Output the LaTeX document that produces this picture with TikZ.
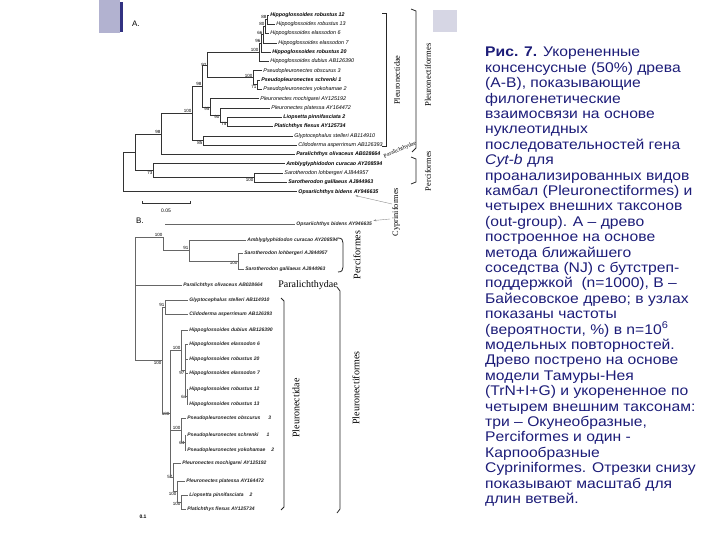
\documentclass[tikz,border=0pt]{standalone}
\usepackage{fontspec}
\setmainfont{Liberation Sans}
\newfontfamily\capfont[FakeStretch=1.12]{Liberation Sans}
\newfontfamily\grpfont{Liberation Serif}
\usetikzlibrary{arrows.meta}

\definecolor{capblue}{RGB}{28,28,120}
\definecolor{slidelav}{RGB}{178,178,208}
\definecolor{slidenavy}{RGB}{50,50,130}
\definecolor{slidepale}{RGB}{214,214,228}

\tikzset{
  branch/.style={draw=black!80, line width=0.6pt},
  branchb/.style={draw=black!60, line width=0.45pt},
  tipa/.style={anchor=west, inner sep=1.2pt, font=\fontsize{5.4}{6}\selectfont\itshape},
  tipab/.style={tipa, font=\fontsize{5.3}{6}\selectfont\bfseries\itshape},
  tipb/.style={anchor=west, inner sep=1.2pt, font=\fontsize{5}{5.5}\selectfont\bfseries\itshape, text=black!85},
  bs/.style={font=\fontsize{4.5}{5}\selectfont, inner sep=0.5pt},
  grptext/.style={font=\grpfont\fontsize{8.3}{8.3}\selectfont, inner sep=0pt},
  grp/.style={grptext, rotate=90},
  bracket/.style={draw=black!85, line width=0.8pt},
  cyparrow/.style={draw=black!45, line width=0.4pt, -{Stealth[length=3pt,width=2pt]}},
  caption/.style={font=\capfont\fontsize{14}{15.4}\selectfont, text=capblue, align=left, inner sep=0pt},
}

\begin{document}
\begin{tikzpicture}[x=1pt, y=-1pt]
    \useasboundingbox (0,0) rectangle (720,540);

    % Slide corners
    \fill[slidelav] (99,0) rectangle (120,33);
    \fill[slidenavy] (120,2) rectangle (123,32);
    \fill[slidepale] (433,10) rectangle (457,32);

    % Panel letters
    \node[font=\fontsize{8}{8}\selectfont] (lblA) at (136,24) {A.};
    \node[font=\fontsize{8}{8}\selectfont] (lblB) at (140,221) {B.};

    % Tree A: tips
    \node[tipab] (aR12) at (269,15) {Hippoglossoides robustus 12};
    \node[tipa] (aR13) at (275,24.3) {Hippoglossoides robustus 13};
    \node[tipa] (aE6) at (269,33.6) {Hippoglossoides elassodon 6};
    \node[tipa] (aE7) at (277,42.9) {Hippoglossoides elassodon 7};
    \node[tipab] (aR20) at (271,52.2) {Hippoglossoides robustus 20};
    \node[tipa] (aDub) at (269,61.5) {Hippoglossoides dubius AB126390};
    \node[tipa] (aObs) at (262,70.8) {Pseudopleuronectes obscurus 3};
    \node[tipab] (aSch) at (260,80.1) {Pseudopleuronectes schrenki 1};
    \node[tipa] (aYok) at (262,89.4) {Pseudopleuronectes yokohamae 2};
    \node[tipa] (aMoc) at (259,98.7) {Pleuronectes mochigarei AY125192};
    \node[tipa] (aPla) at (270,108) {Pleuronectes platessa AY164472};
    \node[tipab] (aLio) at (282,117.3) {Liopsetta pinnifasciata 2};
    \node[tipab] (aFle) at (273,126.6) {Platichthys flesus AY125734};
    \node[tipa] (aGly) at (293,135.9) {Glyptocephalus stelleri AB114910};
    \node[tipa] (aCli) at (297,145.2) {Clidoderma asperrimum AB126393};
    \node[tipab] (aPar) at (295,154.5) {Paralichthys olivaceus AB028664};
    \node[tipab] (aAmb) at (285,163.8) {Amblyglyphidodon curacao AY208594};
    \node[tipa] (aSaL) at (283,173.1) {Sarotherodon lohbergeri AJ844957};
    \node[tipab] (aSaG) at (287,182.4) {Sarotherodon galilaeus AJ844963};
    \node[tipab] (aOps) at (297,191.7) {Opsariichthys bidens AY946635};

    % Tree A: inner nodes with bootstrap
    \coordinate[label={[bs]above left:88}] (aH1) at (267,19.65);
    \coordinate[label={[bs]above left:80}] (aH2) at (265,26.63);
    \coordinate[label={[bs]above left:66}] (aH3) at (263,34.76);
    \coordinate[label={[bs]above left:96}] (aH4) at (261,43.48);
    \coordinate[label={[bs]above left:100}] (aHip) at (259,52.49);
    \coordinate[label={[bs]below left:71}] (aPs1) at (257,84.75);
    \coordinate[label={[bs]above left:100}] (aPse) at (253,77.78);
    \coordinate[label={[bs]left:92}] (aC92) at (207,65.13);
    \coordinate[label={[bs]below left:75}] (aP3) at (227,121.95);
    \coordinate[label={[bs]below left:90}] (aP2) at (220,114.98);
    \coordinate[label={[bs]below left:95}] (aP1) at (210,106.84);
    \coordinate[label={[bs]above left:98}] (aC98b) at (202,85.99);
    \coordinate[label={[bs]below left:85}] (aGC) at (203,140.55);
    \coordinate[label={[bs]above left:100}] (aC100) at (192,113.27);
    \coordinate[label={[bs]above left:98}] (aC98) at (161,133.89);
    \coordinate[label={[bs]below left:100}] (aSar) at (254,177.75);
    \coordinate[label={[bs]below left:73}] (aC73) at (153,170.78);
    \coordinate (aX) at (135,152.33);
    \coordinate (aRoot) at (123,172.0);

    % Tree A: branches
    \draw[branch] (aH1) |- (aR12) (aH1) |- (aR13);
    \draw[branch] (aH2) |- (aH1) (aH2) |- (aE6);
    \draw[branch] (aH3) |- (aH2) (aH3) |- (aE7);
    \draw[branch] (aH4) |- (aH3) (aH4) |- (aR20);
    \draw[branch] (aHip) |- (aH4) (aHip) |- (aDub);
    \draw[branch] (aPs1) |- (aSch) (aPs1) |- (aYok);
    \draw[branch] (aPse) |- (aObs) (aPse) |- (aPs1);
    \draw[branch] (aC92) |- (aHip) (aC92) |- (aPse);
    \draw[branch] (aP3) |- (aLio) (aP3) |- (aFle);
    \draw[branch] (aP2) |- (aPla) (aP2) |- (aP3);
    \draw[branch] (aP1) |- (aMoc) (aP1) |- (aP2);
    \draw[branch] (aC98b) |- (aC92) (aC98b) |- (aP1);
    \draw[branch] (aGC) |- (aGly) (aGC) |- (aCli);
    \draw[branch] (aC100) |- (aC98b) (aC100) |- (aGC);
    \draw[branch] (aC98) |- (aC100) (aC98) |- (aPar);
    \draw[branch] (aSar) |- (aSaL) (aSar) |- (aSaG);
    \draw[branch] (aC73) |- (aAmb) (aC73) |- (aSar);
    \draw[branch] (aX) |- (aC98) (aX) |- (aC73);
    \draw[branch] (aRoot) |- (aX) (aRoot) |- (aOps);

    % Tree A: scale
    \coordinate (sbL) at (142,203);
    \coordinate (sbR) at (190,203);
    \draw[branch] (sbL) ++(0,-2) -- (sbL) -- (sbR) -- ++(0,-2);
    \node[bs, font=\fontsize{5}{5}\selectfont] (sbA) at (166,211) {0.05};

    % Tree A: groups
    \draw[bracket] (382,13) -- (386,13) -- (386,146) -- (382,146);
    \node[grp] (grpPlA) at (397,80) {Pleuronectidae};
    \draw[bracket] (411,9) -- (416,11) -- (416,148) -- (412,152);
    \node[grp, font=\grpfont\fontsize{8.6}{8.6}\selectfont] (grpPfA) at (428,75) {Pleuronectiformes};
    \draw[bracket] (411,157) -- (416,159) -- (416,182) -- (411,184);
    \node[grp] (grpPcA) at (428,171) {Perciformes};
    \node[grptext, font=\grpfont\fontsize{5.8}{6}\selectfont, rotate=23] (grpPaA) at (400,150) {Paralichthydae};

    % Cypriniformes, both trees
    \node[grp] (cyp) at (396,212) {Cypriniformes};
    \coordinate (cypA) at (392,204);
    \coordinate (cypB) at (390,219);

    % Tree B: tips
    \node[tipb] (bOps) at (295,224.3) {Opsariichthys bidens AY946635};
    \node[tipb] (bAmb) at (246,240) {Amblyglyphidodon curacao AY208594};
    \node[tipb] (bSaL) at (243,253) {Sarotherodon lohbergeri AJ844957};
    \node[tipb] (bSaG) at (244,269) {Sarotherodon galilaeus AJ844963};
    \node[tipb] (bPar) at (182,285) {Paralichthys olivaceus AB028664};
    \node[tipb] (bGly) at (188,300) {Glyptocephalus stelleri AB114910};
    \node[tipb] (bCli) at (188,314) {Clidoderma asperrimum AB126393};
    \node[tipb] (bDub) at (188,330) {Hippoglossoides dubius AB126390};
    \node[tipb] (bE6) at (188,344) {Hippoglossoides elassodon 6};
    \node[tipb] (bR20) at (188,359) {Hippoglossoides robustus 20};
    \node[tipb] (bE7) at (188,373) {Hippoglossoides elassodon 7};
    \node[tipb] (bR12) at (188,389) {Hippoglossoides robustus 12};
    \node[tipb] (bR13) at (188,404) {Hippoglossoides robustus 13};
    \node[tipb] (bObs) at (186,418) {Pseudopleuronectes obscurus\hspace{8pt}3};
    \node[tipb] (bSch) at (186,435) {Pseudopleuronectes schrenki\hspace{8pt}1};
    \node[tipb] (bYok) at (186,450) {Pseudopleuronectes yokohamae\hspace{6pt}2};
    \node[tipb] (bMoc) at (181,463) {Pleuronectes mochigarei AY125192};
    \node[tipb] (bPla) at (185,481) {Pleuronectes platessa AY164472};
    \node[tipb] (bLio) at (188,495) {Liopsetta pinnifasciata\hspace{6pt}2};
    \node[tipb] (bFle) at (186,509) {Platichthys flesus AY125734};

    % Tree B: inner nodes with posterior
    \coordinate[label={[bs]below left:100}] (bSar) at (238,261);
    \coordinate[label={[bs]above left:91}] (bC91) at (189,250.5);
    \coordinate[label={[bs]above left:100}] (bPc) at (163,237);
    \coordinate[label={[bs]above left:91}] (bGC) at (165,307);
    \coordinate[label={[bs]left:64}] (bHb1) at (187,396.5);
    \coordinate[label={[bs]below left:97}] (bHb2) at (185,370.25);
    \coordinate[label={[bs]above left:100}] (bHip) at (181,350.13);
    \coordinate[label={[bs]left:64}] (bPs1) at (185,442.5);
    \coordinate[label={[bs]above left:100}] (bPse) at (181,430.25);
    \coordinate[label={[bs]below left:100}] (bP3) at (181,502);
    \coordinate[label={[bs]below left:100}] (bP2) at (177,491.5);
    \coordinate[label={[bs]left:57}] (bP1) at (173,477.25);
    \coordinate[label={[bs]left:100}] (bN) at (170,413.69);
    \coordinate[label={[bs]below left:100}] (bPl) at (162,360.35);
    \coordinate (bRoot) at (135,237);
    \coordinate (bOpsS) at (165,224.3);

    % Tree B: branches
    \draw[branchb] (bSar) |- (bSaL) (bSar) |- (bSaG);
    \draw[branchb] (bC91) |- (bAmb) (bC91) |- (bSar);
    \draw[branchb] (bPc) |- (bC91);
    \draw[branchb] (bGC) |- (bGly) (bGC) |- (bCli);
    \draw[branchb] (bHb1) |- (bR12) (bHb1) |- (bR13);
    \draw[branchb] (bHb2) |- (bE6) (bHb2) |- (bR20) (bHb2) |- (bE7) (bHb2) |- (bHb1);
    \draw[branchb] (bHip) |- (bDub) (bHip) |- (bHb2);
    \draw[branchb] (bPs1) |- (bSch) (bPs1) |- (bYok);
    \draw[branchb] (bPse) |- (bObs) (bPse) |- (bPs1);
    \draw[branchb] (bP3) |- (bLio) (bP3) |- (bFle);
    \draw[branchb] (bP2) |- (bPla) (bP2) |- (bP3);
    \draw[branchb] (bP1) |- (bMoc) (bP1) |- (bP2);
    \draw[branchb] (bN) |- (bHip) (bN) |- (bPse) (bN) |- (bP1);
    \draw[branchb] (bPl) |- (bGC) (bPl) |- (bN);
    \draw[branchb] (bRoot) |- (bPc) (bRoot) |- (bPar) (bRoot) |- (bPl);
    \draw[branchb] (bOpsS) -- (bOps);
    \node[font=\fontsize{5}{5}\selectfont\bfseries] (sbB) at (143,517) {0.1};

    % Tree B: groups
    \draw[bracket] (338,238) .. controls (342,238) and (343,240) .. (343,243) -- (343,267) .. controls (343,270) and (342,272) .. (338,272);
    \node[grp, font=\grpfont\fontsize{10}{10}\selectfont] (grpPcB) at (357,255) {Perciformes};
    \node[grptext, font=\grpfont\fontsize{10}{10}\selectfont] (grpPaB) at (308,285) {Paralichthydae};
    \draw[bracket] (281,298) -- (284,301) -- (284,507) -- (281,510);
    \node[grp, font=\grpfont\fontsize{10}{10}\selectfont] (grpPlB) at (296,408) {Pleuronectidae};
    \draw[bracket] (337,287) -- (340,291) -- (340,509) -- (337,513);
    \node[grp, font=\grpfont\fontsize{10}{10}\selectfont] (grpPfB) at (356,388) {Pleuronectiformes};

    % Cypriniformes pointers
    \draw[cyparrow] (cypA) -- (aOps);
    \draw[cyparrow] (cypB) -- (bOps);

    % Caption
    \node[caption, anchor=north west] (cap) at (485,47) {\textbf{Рис. 7.} Укорененные\\
консенсусные (50\%) древа\\
(А-В), показывающие\\
филогенетические\\
взаимосвязи на основе\\
нуклеотидных\\
последовательностей гена\\
\textit{Cyt-b} для\\
проанализированных видов\\
камбал (Pleuronectiformes) и\\
четырех внешних таксонов\\
(out-group). А – древо\\
построенное на основе\\
метода ближайшего\\
соседства (NJ) с бутстреп-\\
поддержкой\ \ (n=1000), В –\\
Байесовское древо; в узлах\\
показаны частоты\\
(вероятности, \%) в n=10\textsuperscript{6}\\
модельных повторностей.\\
Древо пострено на основе\\
модели Тамуры-Нея\\
(TrN+I+G) и укорененное по\\
четырем внешним таксонам:\\
три – Окунеобразные,\\
Perciformes и один -\\
Карпообразные\\
Cypriniformes. Отрезки снизу\\
показывают масштаб для\\
длин ветвей.};
\end{tikzpicture}
\end{document}
